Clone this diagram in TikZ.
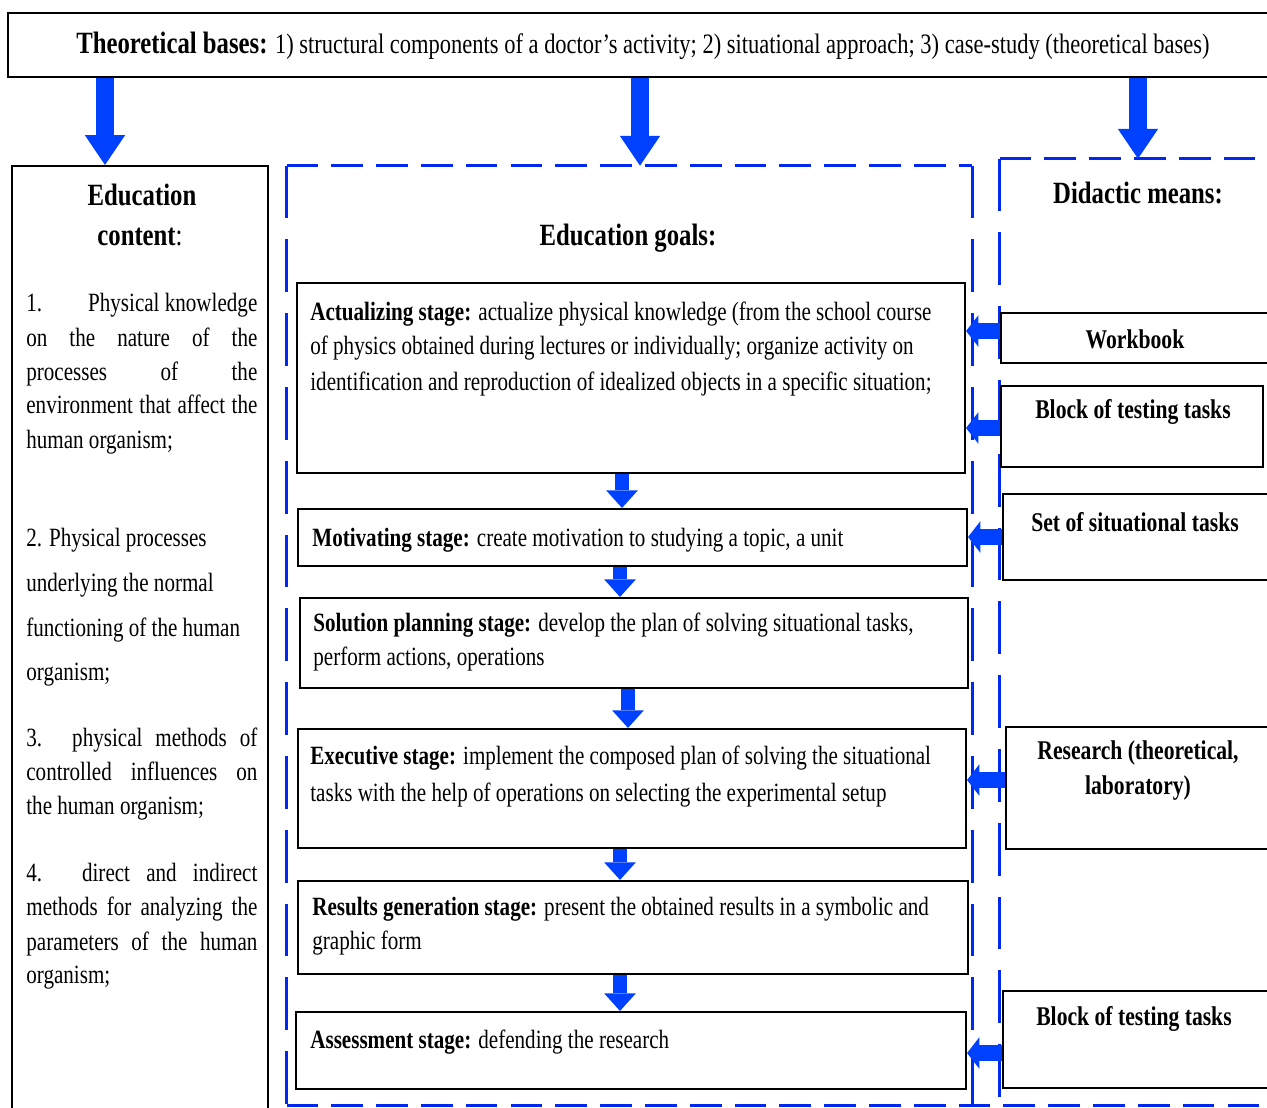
\documentclass[tikz,border=0pt]{standalone}
\usepackage{fontspec}
\setmainfont{Liberation Serif}[FakeStretch=0.8]
\usetikzlibrary{arrows.meta,fit}
\definecolor{ablue}{RGB}{0,64,255}
\definecolor{dblue}{RGB}{0,40,240}
\newlength{\colw}\setlength{\colw}{131.5pt}
\newcommand{\jl}[1]{\makebox[\colw][s]{#1}}
\begin{document}
\begin{tikzpicture}[x=0.02cm,y=-0.02cm,
  box/.style={draw=black, line width=1.2pt, inner sep=0pt},
  area/.style={inner sep=0pt},
  hdash/.style={draw=dblue, line width=1.7pt, dash pattern=on 18pt off 7.5pt},
  vdash/.style={draw=dblue, line width=1.7pt, dash pattern=on 30pt off 12pt},
  bigarrow/.style={draw=ablue, line width=10.5pt, -{Triangle[width=23pt,length=17pt,line width=0pt]}},
  downarrow/.style={draw=ablue, line width=8.5pt, -{Triangle[width=18pt,length=10pt,line width=0pt]}},
  leftarrow/.style={draw=ablue, line width=9.5pt, -{Triangle[width=18pt,length=7pt,line width=0pt]}},
  txt/.style={inner sep=0pt, anchor=mid west, yshift=-2.6pt, font=\fontsize{15}{18}\selectfont},
  ctxt/.style={inner sep=0pt, anchor=mid west, yshift=-2.6pt, font=\fontsize{15}{18}\selectfont},
  lbl/.style={inner sep=0pt, anchor=mid, yshift=-2.6pt, font=\fontsize{15.4}{19}\selectfont\bfseries},
  hd/.style={inner sep=0pt, anchor=mid, yshift=-3pt, font=\fontsize{17.6}{21}\selectfont\bfseries},
]
\clip (0,0) rectangle (1267,1107);
\fill[white] (0,0) rectangle (1267,1107);

% top box
\node[box, fit={(8,13)(1290,77)}] (top) {};
\node[txt, font=\fontsize{16}{19}\selectfont] (toptext) at (76,45)
  {{\fontsize{17.6}{21}\selectfont\bfseries Theoretical bases:} 1) structural components of a doctor's activity; 2) situational approach; 3) case-study (theoretical bases)};

% left content box
\node[box, fit={(12,166)(268,1140)}] (content) {};
\node[hd] (ec1) at (142,196) {Education};
\node[hd] (ec2) at (140,236) {content\textmd{:}};
\node[ctxt] (c11) at (26,303) {\jl{1.\hfill Physical knowledge}};
\node[ctxt] (c12) at (26,338) {\jl{on the nature of the}};
\node[ctxt] (c13) at (26,372) {\jl{processes of the}};
\node[ctxt] (c14) at (26,405) {\jl{environment that affect the}};
\node[ctxt] (c15) at (26,440) {human organism;};
\node[ctxt] (c21) at (26,538) {2. Physical processes};
\node[ctxt] (c22) at (26,583) {underlying the normal};
\node[ctxt] (c23) at (26,628) {functioning of the human};
\node[ctxt] (c24) at (26,672) {organism;};
\node[ctxt] (c31) at (26,738) {\jl{3. physical methods of}};
\node[ctxt] (c32) at (26,772) {\jl{controlled influences on}};
\node[ctxt] (c33) at (26,806) {the human organism;};
\node[ctxt] (c41) at (26,873) {\jl{4. direct and indirect}};
\node[ctxt] (c42) at (26,907) {\jl{methods for analyzing the}};
\node[ctxt] (c43) at (26,942) {\jl{parameters of the human}};
\node[ctxt] (c44) at (26,975) {organism;};

% middle dashed area
\node[area, fit={(287,166)(972,1105)}] (goals) {};
\draw[hdash] (goals.north west) -- (goals.north east);
\draw[vdash] (goals.north west) -- (goals.south west);
\draw[vdash] (goals.north east) -- (goals.south east);
\node[hd] (goalshd) at (628,236) {Education goals:};

% right dashed area
\node[area, fit={(1000,159)(1290,1105)}] (means) {};
\draw[hdash] (means.north west) -- (means.north east);
\draw[vdash] (means.north west) -- (means.south west);
\draw[hdash] (goals.south west) -- (means.south east);
\node[hd] (meanshd) at (1138,194) {Didactic means:};

% stage boxes
\node[box, fit={(297,283)(965,473)}] (s1) {};
\node[box, fit={(298,509)(967,566)}] (s2) {};
\node[box, fit={(300,598)(968,688)}] (s3) {};
\node[box, fit={(298,729)(966,848)}] (s4) {};
\node[box, fit={(298,881)(968,974)}] (s5) {};
\node[box, fit={(296,1012)(966,1089)}] (s6) {};

\node[txt] (t11) at (310,312) {\textbf{Actualizing stage:} actualize physical knowledge (from the school course};
\node[txt] (t12) at (310,346) {of physics obtained during lectures or individually; organize activity on};
\node[txt] (t13) at (310,382) {identification and reproduction of idealized objects in a specific situation;};
\node[txt] (t21) at (312,538) {\textbf{Motivating stage:} create motivation to studying a topic, a unit};
\node[txt] (t31) at (313,623) {\textbf{Solution planning stage:} develop the plan of solving situational tasks,};
\node[txt] (t32) at (313,657) {perform actions, operations};
\node[txt] (t41) at (310,756) {\textbf{Executive stage:} implement the composed plan of solving the situational};
\node[txt] (t42) at (310,793) {tasks with the help of operations on selecting the experimental setup};
\node[txt] (t51) at (312,907) {\textbf{Results generation stage:} present the obtained results in a symbolic and};
\node[txt] (t52) at (312,941) {graphic form};
\node[txt] (t61) at (310,1040) {\textbf{Assessment stage:} defending the research};

% right boxes
\node[box, fit={(1001,313)(1290,363)}] (wb) {};
\node[box, fit={(1001,386)(1263,467)}] (bt1) {};
\node[box, fit={(1003,494)(1290,580)}] (st) {};
\node[box, fit={(1006,727)(1290,849)}] (rs) {};
\node[box, fit={(1003,991)(1290,1088)}] (bt2) {};
\node[lbl] (wbt) at (1135,340) {Workbook};
\node[lbl] (bt1t) at (1133,410) {Block of testing tasks};
\node[lbl] (stt) at (1135,523) {Set of situational tasks};
\node[lbl] (rst1) at (1138,751) {Research (theoretical,};
\node[lbl] (rst2) at (1138,786) {laboratory)};
\node[lbl] (bt2t) at (1134,1017) {Block of testing tasks};

% top arrows
\draw[bigarrow] (top.south -| 105,0) -- (content.north -| 105,0);
\draw[bigarrow] (top.south -| 640,0) -- (goals.north -| 640,0);
\draw[bigarrow] (top.south -| 1138,0) -- (means.north -| 1138,0);

% stage arrows
\draw[downarrow] (s1.south -| 622,0) -- (s2.north -| 622,0);
\draw[downarrow] (s2.south -| 620,0) -- (s3.north -| 620,0);
\draw[downarrow] (s3.south -| 628,0) -- (s4.north -| 628,0);
\draw[downarrow] (s4.south -| 620,0) -- (s5.north -| 620,0);
\draw[downarrow] (s5.south -| 620,0) -- (s6.north -| 620,0);

% means arrows
\draw[leftarrow] (wb.west |- 0,331) -- (s1.east |- 0,331);
\draw[leftarrow] (bt1.west |- 0,428) -- (s1.east |- 0,428);
\draw[leftarrow] (st.west |- 0,537) -- (s2.east |- 0,537);
\draw[leftarrow] (rs.west |- 0,780) -- (s4.east |- 0,780);
\draw[leftarrow] (bt2.west |- 0,1053) -- (s6.east |- 0,1053);
\end{tikzpicture}
\end{document}
